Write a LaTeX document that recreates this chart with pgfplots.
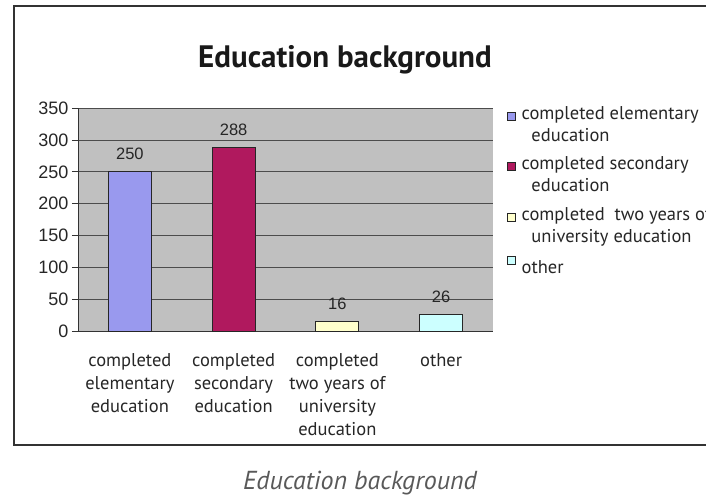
\documentclass[border=0pt]{standalone}
\usepackage{pgfplots}
\pgfplotsset{compat=1.18}
\usepackage{fontspec}
\setmainfont{PT Sans}
\newfontfamily\arialfont{Liberation Sans}
\definecolor{barA}{HTML}{9999EE}
\definecolor{barB}{HTML}{B0195E}
\definecolor{barC}{HTML}{FFFFCC}
\definecolor{barD}{HTML}{CCFFFF}
\definecolor{plotbg}{HTML}{C0C0C0}
\definecolor{framecol}{HTML}{333333}
\begin{document}
\begin{tikzpicture}[x=1pt,y=1pt]
\useasboundingbox (0,0) rectangle (706,497);
\clip (0,0) rectangle (706,497);
% outer chart frame
\draw[line width=1.6pt, framecol] (14,52) rectangle (740,491);
% chart title
\node[font=\fontsize{31}{34}\selectfont\bfseries, text=black!90] at (345,437) {Education background};
\begin{axis}[
  at={(78pt,165.5pt)}, anchor=south west,
  scale only axis, width=415pt, height=223.5pt,
  xmin=-0.5, xmax=3.5, ymin=0, ymax=350,
  ytick={0,50,...,350},
  xtick={0,1,2,3},
  xticklabels={{completed\\elementary\\education},{completed\\secondary\\education},{completed\\two years of\\university\\education},{other}},
  xticklabel style={align=center, font=\fontsize{18.5}{22.7}\selectfont, text=black!85, yshift=-13pt},
  yticklabel style={font=\arialfont\fontsize{18}{20}\selectfont, text=black!85},
  /pgf/number format/assume math mode=true,
  x tick style={draw=none},
  tick align=outside,
  major tick length=6pt,
  y tick style={draw=framecol, line width=0.8pt},
  extra x ticks={0.5,1.5,2.5},
  extra x tick labels={},
  extra x tick style={tick style={draw=framecol, line width=0.8pt}, major tick length=6pt, grid=none},
  axis lines*=left,
  axis line style={draw=framecol, line width=0.8pt},
  axis background/.style={fill=plotbg},
  ymajorgrids,
  grid style={draw=black!70, line width=0.8pt},
  ybar, bar width=43pt, bar shift=0pt,
  every axis plot/.append style={draw=black!85, line width=1.2pt},
  nodes near coords,
  nodes near coords style={font=\arialfont\fontsize{16.5}{18}\selectfont, text=black!85, yshift=8pt},
  % small square key, with a little room to its right
  legend image code/.code={%
    \draw[#1, line width=0.8pt] (0pt,4pt) rectangle (8pt,12pt);
    \path[draw=none, fill=none] (0pt,4pt) -- (12pt,4pt);},
  legend style={at={(rel axis cs:1,1)}, anchor=north west, xshift=12pt, yshift=6pt,
    draw=none, fill=none, font=\fontsize{18.5}{22}\selectfont,
    nodes={align=left, text=black!85}, row sep=10pt, inner sep=2pt},
  legend cell align=left,
  clip=false,
]
\addplot[fill=barA] coordinates {(0,250)};
\addplot[fill=barB] coordinates {(1,288)};
\addplot[fill=barC] coordinates {(2,16)};
\addplot[fill=barD] coordinates {(3,26)};
\legend{{completed elementary\\\ \ education},{completed secondary\\\ \ education},{completed\ \ two years of\\\ \ university education},{other}}
\end{axis}
% caption below the chart
\node[font=\fontsize{26}{28}\selectfont\itshape, text=black!65] at (360,14) {Education background};
\end{tikzpicture}
\end{document}
